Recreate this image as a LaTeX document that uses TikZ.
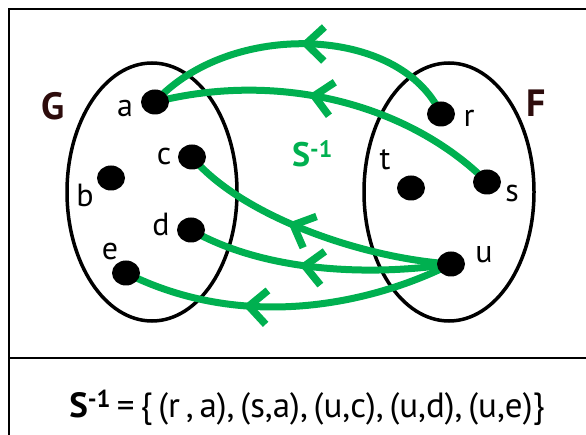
\documentclass[tikz,border=0pt]{standalone}
\usepackage{fontspec}
\setmainfont{PT Sans}
\usetikzlibrary{shapes.geometric,decorations.markings}
\definecolor{sgreen}{RGB}{0,176,80}
\definecolor{setlab}{RGB}{45,12,12}
\pgfdeclarelayer{bg}
\pgfsetlayers{bg,main}
\begin{document}
\begin{tikzpicture}[x=1pt,y=-1pt,
 dot/.style={ellipse,fill=black,minimum width=28pt,minimum height=25pt,inner sep=0pt},
 lab/.style={anchor=base,inner sep=0pt,font=\fontsize{32}{36}\selectfont},
 setname/.style={anchor=base,inner sep=0pt,font=\fontsize{38}{42}\selectfont\bfseries,text=setlab},
 setshape/.style={ellipse,draw,line width=3.5pt,minimum width=170pt,minimum height=258pt,inner sep=0pt},
 rel/.style={draw=sgreen,line width=7pt},
 chev/.style={postaction={decorate,decoration={markings,mark=at position #1 with {\draw[sgreen,line width=7.5pt,line join=miter] (-18pt,17pt) -- (0pt,0pt) -- (-18pt,-17pt);}}}}
]
\useasboundingbox (0,0) rectangle (586,435);
% frame
\draw[line width=2.5pt] (587,9) -- (9,9) -- (9,436);
\draw[line width=2.5pt] (9,358) -- (587,358);
% sets
\begin{pgfonlayer}{bg}
\node[setshape] (Gset) at (152,192) {};
\node[setshape] (Fset) at (449,192) {};
\end{pgfonlayer}
% elements
\node[dot] (a) at (155,102) {};
\node[dot] (b) at (111,178) {};
\node[dot] (c) at (192,157) {};
\node[dot] (d) at (191,230) {};
\node[dot] (e) at (126,273) {};
\node[dot] (r) at (441,114) {};
\node[dot] (s) at (487,182) {};
\node[dot] (t) at (411,188) {};
\node[dot] (u) at (451,264) {};
% labels
\node[lab] (la) at (125,117) {a};
\node[lab] (lb) at (85,207) {b};
\node[lab] (lc) at (164,165) {c};
\node[lab] (ld) at (161,236) {d};
\node[lab] (le) at (110,260) {e};
\node[lab] (lr) at (469,127) {r};
\node[lab] (ls) at (512,202) {s};
\node[lab] (lt) at (385,170) {t};
\node[lab] (lu) at (484,263) {u};
\node[setname] (G) at (53,120) {G};
\node[setname] (F) at (536,117) {F};
\node[anchor=base west,inner sep=0pt,text=sgreen,font=\fontsize{34}{40}\selectfont\bfseries] (Sinv) at (292,167) {S\textsuperscript{-1}};
% relations
\begin{pgfonlayer}{bg}
\draw[rel,chev=0.49] (r.center) .. controls (400,25) and (230,20) .. (a.center);
\draw[rel,chev=0.55] (s.center) .. controls (410,105) and (280,70) .. (a.center);
\draw[rel,chev=0.57] (u.center) .. controls (360,258) and (240,215) .. (c.center);
\draw[rel,chev=0.55] (u.center) .. controls (380,275) and (270,275) .. (d.center);
\draw[rel,chev=0.62] (u.center) .. controls (380,300) and (250,335) .. (e.center);
\end{pgfonlayer}
% formula
\node[anchor=base,inner sep=0pt,font=\fontsize{35}{40}\selectfont] (formula) at (307,417) {\textbf{S}\textsuperscript{\textbf{-1}}\,=\,\{\,(r\,,\,a),\,(s,a),\,(u,c),\,(u,d),\,(u,e)\}};
\end{tikzpicture}
\end{document}
